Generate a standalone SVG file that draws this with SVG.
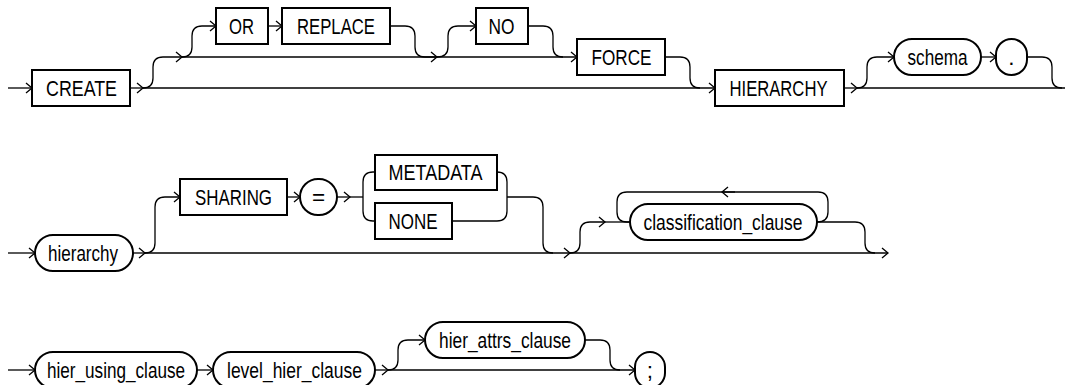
<svg xmlns="http://www.w3.org/2000/svg" width="1065" height="385" viewBox="0 0 1065 385">
<style>
.b{fill:#fff;stroke:#000;stroke-width:2}
.c{fill:none;stroke:#000;stroke-width:1.3}
text{font-family:"Liberation Sans",Arial,sans-serif;font-size:22.5px;fill:#000;text-anchor:middle}
</style>
<defs>
<marker id="a" markerWidth="9" markerHeight="12" refX="7" refY="6" orient="auto" markerUnits="userSpaceOnUse">
<path d="M1 1 L7 6 L1 11" fill="none" stroke="#000" stroke-width="1.3"/>
</marker>
</defs>
<rect width="1065" height="385" fill="#fff"/>
<g id="connectors">
<path class="c" d="M8 88 H32" marker-end="url(#a)"/>
<path class="c" d="M130 88 H143" marker-end="url(#a)"/>
<path class="c" d="M143 88 H715" marker-end="url(#a)"/>
<path class="c" d="M143 88 Q153 88 153 78 V67 Q153 57 163 57 H182" marker-end="url(#a)"/>
<path class="c" d="M182 57 H577" marker-end="url(#a)"/>
<path class="c" d="M182 57 Q192 57 192 47 V36 Q192 26 202 26 H216" marker-end="url(#a)"/>
<path class="c" d="M268 26 H282" marker-end="url(#a)"/>
<path class="c" d="M390 26 H405 Q415 26 415 36 V47 Q415 57 425 57 H437" marker-end="url(#a)"/>
<path class="c" d="M437 57 Q448 57 448 47 V36 Q448 26 458 26 H476" marker-end="url(#a)"/>
<path class="c" d="M528 26 H543 Q553 26 553 36 V47 Q553 57 563 57"/>
<path class="c" d="M665 57 H680 Q690 57 690 67 V78 Q690 88 700 88"/>
<path class="c" d="M844 88 H857" marker-end="url(#a)"/>
<path class="c" d="M857 88 H1065"/>
<path class="c" d="M857 88 Q867 88 867 78 V67 Q867 57 877 57 H894" marker-end="url(#a)"/>
<path class="c" d="M981 57 H996" marker-end="url(#a)"/>
<path class="c" d="M1027 57 H1042 Q1052 57 1052 67 V78 Q1052 88 1062 88"/>

<path class="c" d="M8 253 H35" marker-end="url(#a)"/>
<path class="c" d="M133 253 H145" marker-end="url(#a)"/>
<path class="c" d="M145 253 H570" marker-end="url(#a)"/>
<path class="c" d="M570 253 H888" marker-end="url(#a)"/>
<path class="c" d="M145 253 Q155 253 155 243 V207 Q155 197 165 197 H180" marker-end="url(#a)"/>
<path class="c" d="M287 197 H300" marker-end="url(#a)"/>
<path class="c" d="M337 197 H350" marker-end="url(#a)"/>
<path class="c" d="M350 197 H363"/>
<path class="c" d="M375 172 H373 Q363 172 363 182 V211 Q363 221 373 221 H375"/>
<path class="c" d="M497 172 Q507 172 507 182 V211 Q507 221 497 221 H452"/>
<path class="c" d="M507 197 H533 Q543 197 543 207 V243 Q543 253 553 253"/>
<path class="c" d="M570 253 Q580 253 580 243 V232 Q580 222 590 222 H605" marker-end="url(#a)"/>
<path class="c" d="M605 222 H630"/>
<path class="c" d="M817 222 Q828 222 828 212 V202 Q828 192 818 192 H627 Q617 192 617 202 V212 Q617 222 627 222 H630"/>
<path class="c" d="M735 192 H722" marker-end="url(#a)"/>
<path class="c" d="M817 222 H855 Q865 222 865 232 V243 Q865 253 875 253"/>

<path class="c" d="M8 370 H35" marker-end="url(#a)"/>
<path class="c" d="M197 370 H213" marker-end="url(#a)"/>
<path class="c" d="M375 370 H388" marker-end="url(#a)"/>
<path class="c" d="M388 370 H635" marker-end="url(#a)"/>
<path class="c" d="M388 370 Q398 370 398 360 V350 Q398 340 408 340 H425" marker-end="url(#a)"/>
<path class="c" d="M585 340 H600 Q610 340 610 350 V360 Q610 370 620 370"/>
</g>

<g id="n-create"><rect class="b" x="32" y="70" width="98" height="36"/><text x="81.5" y="96" textLength="71" lengthAdjust="spacingAndGlyphs">CREATE</text></g>
<g id="n-or"><rect class="b" x="216" y="8" width="52" height="36"/><text x="241.5" y="34" textLength="25" lengthAdjust="spacingAndGlyphs">OR</text></g>
<g id="n-replace"><rect class="b" x="282" y="8" width="108" height="36"/><text x="336" y="34" textLength="78" lengthAdjust="spacingAndGlyphs">REPLACE</text></g>
<g id="n-no"><rect class="b" x="476" y="8" width="52" height="36"/><text x="501.5" y="34" textLength="26" lengthAdjust="spacingAndGlyphs">NO</text></g>
<g id="n-force"><rect class="b" x="577" y="39" width="88" height="36"/><text x="621.5" y="65" textLength="60" lengthAdjust="spacingAndGlyphs">FORCE</text></g>
<g id="n-hierarchy-kw"><rect class="b" x="715" y="70" width="129" height="36"/><text x="778.5" y="96" textLength="98" lengthAdjust="spacingAndGlyphs">HIERARCHY</text></g>
<g id="n-schema"><rect class="b" x="894" y="39" width="87" height="36" rx="18"/><text x="937.5" y="64.5" textLength="60" lengthAdjust="spacingAndGlyphs">schema</text></g>
<g id="n-dot"><rect class="b" x="996" y="39" width="31" height="36" rx="15.5"/><text x="1011.5" y="65">.</text></g>

<g id="n-hierarchy"><rect class="b" x="35" y="235" width="98" height="36" rx="18"/><text x="83" y="260.5" textLength="70" lengthAdjust="spacingAndGlyphs">hierarchy</text></g>
<g id="n-sharing"><rect class="b" x="180" y="179" width="107" height="36"/><text x="233.5" y="205" textLength="77" lengthAdjust="spacingAndGlyphs">SHARING</text></g>
<g id="n-eq"><rect class="b" x="300" y="179" width="37" height="36" rx="18"/><text x="318.5" y="205">=</text></g>
<g id="n-metadata"><rect class="b" x="375" y="155" width="122" height="35"/><text x="435.5" y="180" textLength="94" lengthAdjust="spacingAndGlyphs">METADATA</text></g>
<g id="n-none"><rect class="b" x="375" y="203" width="77" height="36"/><text x="413" y="229" textLength="49" lengthAdjust="spacingAndGlyphs">NONE</text></g>
<g id="n-classification"><rect class="b" x="630" y="204" width="187" height="36" rx="18"/><text x="723" y="229.5" textLength="159" lengthAdjust="spacingAndGlyphs">classification_clause</text></g>

<g id="n-hier-using"><rect class="b" x="35" y="352" width="162" height="36" rx="18"/><text x="116" y="377.5" textLength="138" lengthAdjust="spacingAndGlyphs">hier_using_clause</text></g>
<g id="n-level-hier"><rect class="b" x="213" y="352" width="162" height="36" rx="18"/><text x="294.5" y="377.5" textLength="135" lengthAdjust="spacingAndGlyphs">level_hier_clause</text></g>
<g id="n-hier-attrs"><rect class="b" x="425" y="322" width="160" height="36" rx="18"/><text x="505" y="347.5" textLength="132" lengthAdjust="spacingAndGlyphs">hier_attrs_clause</text></g>
<g id="n-semi"><rect class="b" x="635" y="352" width="30" height="36" rx="15"/><text x="650" y="377.5">;</text></g>
</svg>
